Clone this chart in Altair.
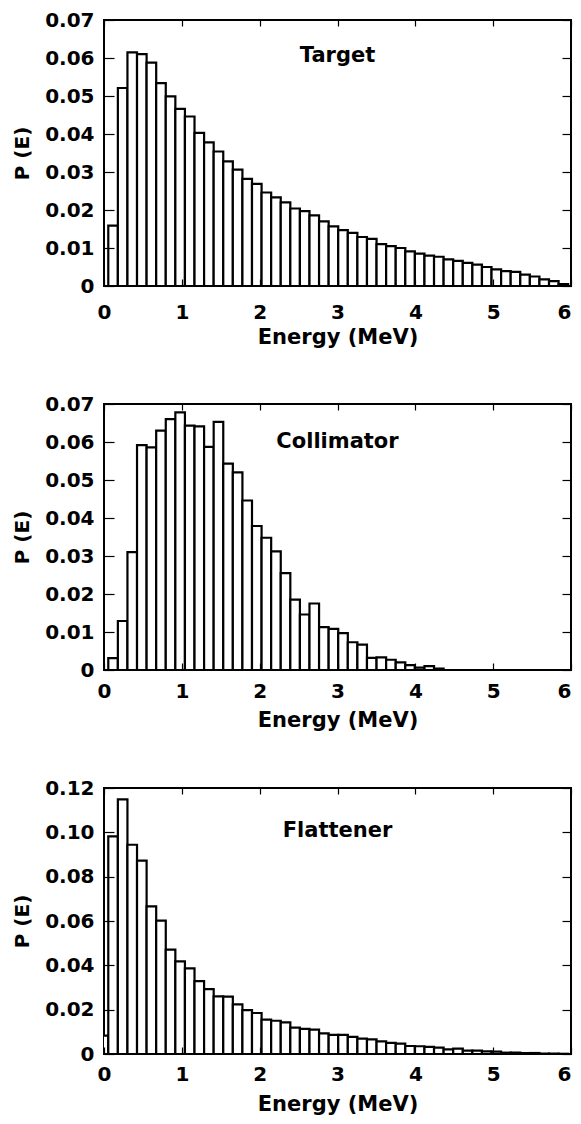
import altair as alt
import pandas as pd

# Histogram bins: index 0 is the partial bin straddling 0 MeV
BIN_START = 0.055
BIN_WIDTH = 0.1231

target = [0.0, 0.0159, 0.0521, 0.0615, 0.0610, 0.0588, 0.0534, 0.0499, 0.0466, 0.0446,
          0.0403, 0.0378, 0.0354, 0.0328, 0.0306, 0.0282, 0.0269, 0.0246, 0.0233, 0.0220,
          0.0204, 0.0197, 0.0186, 0.0170, 0.0157, 0.0147, 0.0140, 0.0129, 0.0124, 0.0110,
          0.0105, 0.0100, 0.0091, 0.0085, 0.0080, 0.0077, 0.0070, 0.0066, 0.0061, 0.0056,
          0.0050, 0.0044, 0.0039, 0.0037, 0.0030, 0.0025, 0.00175, 0.0013, 0.0005]

collimator = [0.0, 0.0031, 0.0129, 0.0310, 0.0592, 0.0586, 0.0630, 0.0660, 0.0678, 0.0643,
              0.0641, 0.0587, 0.0653, 0.0543, 0.0520, 0.0446, 0.0379, 0.0348, 0.0312, 0.0255,
              0.0185, 0.0146, 0.0175, 0.0113, 0.0108, 0.0097, 0.0073, 0.0067, 0.0032, 0.0033,
              0.0027, 0.0020, 0.0013, 0.0006, 0.0010, 0.00035, 0.0, 0.0, 0.0, 0.0,
              0.0, 0.0, 0.0, 0.0, 0.0, 0.0, 0.0, 0.0, 0.0]

flattener = [0.0083, 0.0982, 0.1149, 0.0944, 0.0872, 0.0666, 0.0602, 0.0471, 0.0418, 0.0386,
             0.0329, 0.0293, 0.0260, 0.0259, 0.0224, 0.0198, 0.0185, 0.0155, 0.0150, 0.0143,
             0.0119, 0.0113, 0.0110, 0.0093, 0.0086, 0.0086, 0.0077, 0.0069, 0.0066, 0.0057,
             0.0050, 0.0047, 0.0036, 0.0035, 0.0032, 0.0029, 0.0021, 0.0024, 0.0015, 0.0015,
             0.0012, 0.00105, 0.0006, 0.0006, 0.00045, 0.00045, 0.00015, 0.00015, 0.0001]

panel_names = ["Target", "Collimator", "Flattener"]
panel_values = [target, collimator, flattener]
label_x = [3.0, 3.0, 3.0]
label_y = [0.0605, 0.0600, 0.1005]
y_max = [0.07, 0.07, 0.12]
y_step = [0.01, 0.01, 0.02]
x_ticks = [0, 1, 2, 3, 4, 5, 6]

x_title = "Energy (MeV)"
y_title = "P (E)"

FONT = "DejaVu Sans"
W, H = 467, 266
label_pads = [16, 11, 10]
title_ys = [47, 46, 46]


def panel(i):
    vals = panel_values[i]
    lo = [BIN_START + BIN_WIDTH * (k - 1) for k in range(len(vals))]
    df = pd.DataFrame({"lo": lo, "hi": [v + BIN_WIDTH for v in lo], "p": vals,
                       "base": [0.0] * len(vals)})
    n = int(round(y_max[i] / y_step[i]))
    yticks = [round(j * y_step[i], 2) for j in range(n + 1)]
    xs = alt.Scale(domain=[0, 6], nice=False, zero=False)
    ys = alt.Scale(domain=[0, y_max[i]], nice=False)

    bars = alt.Chart(df).mark_rect(
        fill="white", stroke="black", strokeWidth=2.2, clip=True
    ).encode(
        x=alt.X("lo:Q", scale=xs, axis=alt.Axis(
            orient="bottom", values=x_ticks, format="d", title=x_title,
            offset=-7, tickSize=7, domain=False, grid=False, labelFlush=False,
            labelAlign={"condition": {"test": "datum.value == 6", "value": "right"},
                        "value": "center"},
            labelPadding=label_pads[i], titleY=title_ys[i], titleBaseline="top",
            titleFontSize=21, zindex=1, minExtent=0)),
        x2="hi:Q",
        y=alt.Y("p:Q", scale=ys, axis=alt.Axis(
            orient="left", values=yticks, title=y_title,
            labelExpr="datum.value == 0 ? '0' : format(datum.value, '.2f')",
            offset=-10, tickSize=10, domain=False, grid=False, labelFlush=False,
            labelPadding=10, titlePadding=12, titleFontSize=20, zindex=1, minExtent=0)),
        y2="base:Q",
    )

    lab_df = pd.DataFrame({"x": [label_x[i]], "y": [label_y[i]], "t": [panel_names[i]]})
    lab = alt.Chart(lab_df).mark_text(
        font=FONT, fontSize=21, fontWeight="bold", align="center",
        baseline="middle", color="black"
    ).encode(
        x=alt.X("x:Q", scale=xs, title=None, axis=alt.Axis(
            orient="top", values=x_ticks, labels=False, minExtent=0, maxExtent=0,
            offset=-6, tickSize=6, domain=False, grid=False, zindex=1)),
        y=alt.Y("y:Q", scale=ys, title=None, axis=alt.Axis(
            orient="right", values=yticks, labels=False, minExtent=0, maxExtent=0,
            offset=-9, tickSize=9, domain=False, grid=False, zindex=1)),
        text="t:N",
    )
    return alt.layer(bars, lab).resolve_axis(
        x="independent", y="independent").properties(width=W, height=H)


chart = alt.vconcat(panel(0), panel(1), panel(2), spacing=118, bounds="flush").properties(
    padding={"left": 3, "top": 1, "right": 0, "bottom": 0}
).configure_view(
    stroke="black", strokeWidth=2
).configure_axis(
    labelFont=FONT, labelFontSize=20, labelFontWeight="bold", labelColor="black",
    titleFont=FONT, titleFontWeight="bold", titleColor="black",
    tickColor="black", tickWidth=1.2
)

chart.save("out.html", embed_options={"renderer": "svg", "actions": False})
